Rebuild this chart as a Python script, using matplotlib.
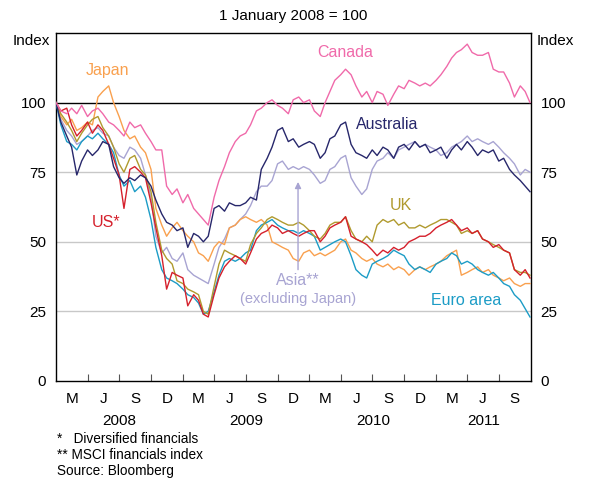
import matplotlib
matplotlib.use("Agg")
import matplotlib.pyplot as plt
import pandas as pd

plt.rcParams['font.family'] = ['Liberation Sans', 'DejaVu Sans']

# semi-monthly observation dates (1st and 15th), plus final observation
dates = list(pd.date_range('2008-01-01', '2011-09-15', freq='SMS')) + [pd.Timestamp('2011-09-29')]

canada = [100, 97, 96, 98, 96, 99, 95, 97, 98, 96, 93, 92, 90, 88, 93, 91, 92, 89, 86, 83,
          83, 70, 67, 69, 64, 67, 62, 60, 58, 56, 66, 72, 77, 82, 86, 88, 89, 92, 97, 98,
          100, 101, 99, 98, 96, 101, 102, 100, 101, 97, 95, 100, 104, 108, 110, 112, 110, 106, 102, 104,
          100, 104, 103, 99, 103, 106, 105, 108, 107, 106, 107, 106, 108, 110, 113, 116, 118, 119, 121, 118,
          117, 117, 118, 112, 111, 111, 107, 102, 106, 104, 100]
japan = [100, 95, 92, 94, 90, 91, 93, 92, 102, 104, 106, 100, 95, 90, 87, 88, 84, 82, 76, 62,
         56, 52, 55, 57, 54, 52, 50, 46, 45, 43, 48, 50, 49, 55, 56, 58, 59, 58, 57, 58,
         56, 50, 49, 48, 47, 44, 43, 46, 47, 45, 46, 45, 46, 47, 50, 51, 47, 46, 44, 43,
         44, 42, 41, 42, 40, 41, 40, 38, 40, 41, 40, 41, 42, 43, 45, 46, 47, 38, 39, 40,
         41, 39, 40, 38, 37, 36, 37, 35, 34, 35, 35]
australia = [100, 93, 88, 84, 74, 79, 83, 81, 83, 86, 85, 77, 73, 71, 73, 72, 74, 73, 70, 65,
             60, 57, 56, 54, 55, 48, 53, 52, 50, 52, 62, 63, 61, 64, 63, 63, 64, 66, 65, 76,
             80, 84, 90, 91, 86, 87, 84, 85, 86, 85, 80, 82, 87, 88, 92, 93, 85, 82, 81, 80,
             83, 81, 84, 83, 80, 84, 85, 83, 86, 84, 85, 82, 83, 84, 80, 83, 85, 83, 86, 84,
             81, 83, 82, 83, 79, 80, 76, 74, 72, 70, 68]
asia = [100, 94, 90, 88, 85, 86, 88, 90, 91, 89, 88, 84, 81, 80, 84, 83, 80, 74, 66, 52,
        46, 48, 44, 43, 46, 40, 38, 37, 36, 35, 42, 48, 51, 55, 56, 58, 60, 63, 68, 70,
        70, 72, 78, 79, 76, 77, 76, 77, 76, 74, 71, 72, 76, 77, 80, 81, 73, 70, 67, 69,
        76, 79, 80, 82, 80, 83, 84, 85, 86, 84, 85, 84, 83, 81, 82, 84, 85, 86, 88, 86,
        87, 86, 85, 86, 84, 82, 80, 78, 74, 76, 75]
us = [100, 97, 98, 92, 88, 90, 93, 89, 92, 90, 85, 80, 74, 62, 76, 77, 75, 73, 64, 55,
      45, 33, 39, 38, 37, 27, 31, 29, 24, 23, 31, 37, 41, 43, 45, 44, 42, 46, 51, 53,
      54, 56, 55, 53, 54, 53, 52, 53, 54, 54, 50, 52, 55, 56, 57, 59, 52, 51, 50, 49,
      47, 45, 47, 46, 48, 47, 48, 50, 51, 52, 52, 53, 55, 56, 57, 58, 56, 54, 55, 53,
      54, 51, 50, 48, 49, 47, 46, 40, 38, 40, 37]
uk = [100, 96, 93, 90, 86, 89, 92, 94, 95, 91, 88, 84, 78, 75, 80, 81, 76, 74, 68, 57,
      47, 44, 42, 36, 35, 33, 32, 31, 25, 24, 34, 42, 47, 46, 45, 44, 43, 49, 53, 55,
      58, 59, 58, 57, 56, 56, 57, 56, 54, 52, 51, 53, 56, 57, 57, 59, 54, 51, 50, 52,
      50, 56, 58, 57, 58, 56, 57, 55, 55, 56, 55, 56, 57, 58, 58, 57, 56, 53, 54, 53,
      54, 51, 50, 49, 48, 47, 46, 40, 39, 39, 38]
euro = [100, 92, 86, 85, 83, 86, 88, 87, 89, 87, 85, 82, 74, 70, 72, 68, 70, 66, 58, 48,
        40, 37, 36, 35, 33, 31, 30, 28, 24, 25, 32, 38, 43, 44, 43, 44, 46, 47, 54, 56,
        57, 58, 56, 55, 54, 54, 53, 54, 53, 52, 47, 48, 49, 50, 51, 50, 45, 40, 38, 37,
        42, 43, 44, 45, 47, 46, 45, 42, 40, 41, 40, 39, 42, 43, 44, 46, 45, 42, 43, 42,
        40, 39, 38, 39, 37, 35, 34, 31, 29, 26, 23]

month_labels = ['M', 'J', 'S', 'D'] * 3 + ['M', 'J', 'S']
years = ['2008', '2009', '2010', '2011']

C_CAN = '#F06AAA'
C_JPN = '#F9A04E'
C_AUS = '#27276B'
C_ASIA = '#A8A4D2'
C_US = '#D5202C'
C_UK = '#B09A2E'
C_EUR = '#1C9CC6'

W, H = 591, 478
fig = plt.figure(figsize=(W / 100, H / 100), dpi=100)
L, R, T, B = 56, 530.7, 33, 381
ax = fig.add_axes([L / W, 1 - B / H, (R - L) / W, (B - T) / H])

lw = 1.0
series = [(asia, C_ASIA), (japan, C_JPN), (euro, C_EUR), (uk, C_UK), (us, C_US),
          (australia, C_AUS), (canada, C_CAN)]
for vals, col in series:
    ax.plot(dates, vals, color=col, lw=lw, zorder=3)

x0 = pd.Timestamp('2008-01-01')
x1 = pd.Timestamp('2011-10-01')
ax.set_xlim(x0, x1)
ax.set_ylim(0, 125)

# gridlines
for v in [25, 50, 75]:
    ax.axhline(v, color='#C8C8C8', lw=1.0, zorder=1)
ax.axhline(100, color='black', lw=1.0, zorder=2)

for s in ax.spines.values():
    s.set_linewidth(1.0)
    s.set_color('black')

# y-axis labels on both sides
ax.set_yticks([0, 25, 50, 75, 100])
ax.tick_params(axis='y', length=0, labelsize=11, pad=7,
               left=False, right=False, labelleft=True, labelright=True)

# quarter ticks
qticks = pd.date_range('2008-04-01', '2011-07-01', freq='QS')
ax.set_xticks(qticks)
ax.tick_params(axis='x', which='major', direction='in', length=5, width=0.8,
               color='#555555', labelbottom=False)
qstarts = pd.date_range('2008-01-01', '2011-07-01', freq='QS')
qends = pd.date_range('2008-04-01', '2011-10-01', freq='QS')
qcent = [a + (b - a) / 2 for a, b in zip(qstarts, qends)]
ax.set_xticks(qcent, minor=True)
ax.set_xticklabels(month_labels, minor=True)
ax.tick_params(axis='x', which='minor', length=0, labelsize=11, pad=8)

ystarts = [pd.Timestamp('2008-01-01'), pd.Timestamp('2009-01-01'),
           pd.Timestamp('2010-01-01'), pd.Timestamp('2011-01-01')]
yends = [pd.Timestamp('2009-01-01'), pd.Timestamp('2010-01-01'),
         pd.Timestamp('2011-01-01'), x1]
for yr, s, e in zip(years, ystarts, yends):
    ax.text(s + (e - s) / 2, -14.5, yr, ha='center', va='center', fontsize=11,
            clip_on=False)

# titles
fig.text(293 / W, 1 - 16 / H, '1 January 2008 = 100', ha='center', va='center', fontsize=11)
fig.text(50 / W, 1 - 41 / H, 'Index', ha='right', va='center', fontsize=11)
fig.text(537 / W, 1 - 41 / H, 'Index', ha='left', va='center', fontsize=11)


def d(s):
    return pd.Timestamp(s)


fs = 11.5
ax.text(d('2008-05-27'), 111.5, 'Japan', color=C_JPN, ha='center', va='center', fontsize=fs)
ax.text(d('2010-04-15'), 118, 'Canada', color=C_CAN, ha='center', va='center', fontsize=fs)
ax.text(d('2010-05-15'), 92, 'Australia', color=C_AUS, ha='left', va='center', fontsize=fs)
ax.text(d('2010-09-22'), 63, 'UK', color=C_UK, ha='center', va='center', fontsize=fs)
ax.text(d('2008-05-24'), 57, 'US*', color=C_US, ha='center', va='center', fontsize=fs)
ax.text(d('2009-11-29'), 36.2, 'Asia**', color=C_ASIA, ha='center', va='center', fontsize=fs)
ax.text(d('2009-11-29'), 29.6, '(excluding Japan)', color=C_ASIA, ha='center', va='center',
        fontsize=10.5)
ax.text(d('2011-03-30'), 29, 'Euro area', color=C_EUR, ha='center', va='center', fontsize=fs)
ax.annotate('', xy=(d('2009-11-29'), 71.5), xytext=(d('2009-11-29'), 40),
            arrowprops=dict(arrowstyle='-|>', color=C_ASIA, lw=1.0,
                            mutation_scale=9, shrinkA=0, shrinkB=0), zorder=4)

# footnotes
fs2 = 9.8
fig.text(57 / W, 1 - 439 / H, '*   Diversified financials', ha='left', va='center', fontsize=fs2)
fig.text(57 / W, 1 - 455 / H, '** MSCI financials index', ha='left', va='center', fontsize=fs2)
fig.text(57 / W, 1 - 471 / H, 'Source: Bloomberg', ha='left', va='center', fontsize=fs2)

fig.savefig('out.png', dpi=100)
